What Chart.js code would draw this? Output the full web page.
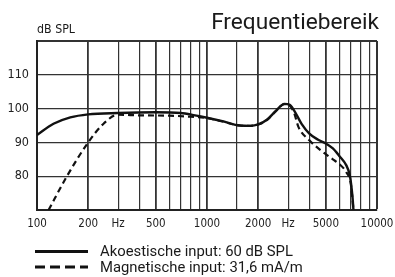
<!DOCTYPE html>
<html>
<head>
<meta charset="utf-8">
<script src="https://cdn.jsdelivr.net/npm/chart.js@4.4.1/dist/chart.umd.min.js"></script>
<style>
  html, body { margin: 0; padding: 0; background: #fff; }
  #wrap { width: 395px; height: 277px; }
</style>
</head>
<body>
<div id="wrap"><canvas id="freqChart" width="395" height="277"></canvas></div>
<script>
// Akoestische input (solid line)
const acousticFreq = [100, 125, 157, 200, 300, 500, 700, 850, 1000, 1250,
  1560, 1800, 2000, 2250, 2550, 2850, 3050, 3250, 3600, 4000,
  4500, 5000, 5500, 6000, 6600, 6900, 7050, 7170, 7270];
const acousticDb = [92.2, 95.5, 97.4, 98.3, 98.7, 98.9, 98.7, 98.0, 97.3, 96.2,
  95.0, 94.9, 95.3, 96.7, 99.4, 101.4, 101.2, 99.5, 95.5, 92.6,
  90.8, 89.7, 88.2, 86.0, 83.2, 80.5, 77.5, 74.0, 70];

// Magnetische input (dashed line)
const magneticFreq = [117, 150, 200, 247, 300, 400, 600, 800, 1000, 1250,
  1560, 1800, 2000, 2250, 2550, 2850, 3050, 3250, 3450, 4000,
  4500, 5000, 5500, 6000, 6600, 7000, 7150, 7270];
const magneticDb = [70, 80, 90, 95.6, 98.2, 98.0, 97.9, 97.6, 97.2, 96.1,
  95.0, 94.9, 95.3, 96.6, 99.3, 101.3, 101.0, 98.8, 94.6, 90.6,
  88.3, 86.5, 85.0, 83.6, 81.2, 78.0, 74.0, 70];

// tick labels
const xLabelValues = [100, 200, 300, 500, 1000, 2000, 3000, 5000, 10000];
const xLabelTexts = ['100', '200', 'Hz', '500', '1000', '2000', 'Hz', '5000', '10000'];
const yLabelValues = [80, 90, 100, 110];
const strongGrid = [200, 500, 1000, 2000, 5000];

const legendLabels = ['Akoestische input: 60 dB SPL', 'Magnetische input: 31,6 mA/m'];
const titleText = 'Frequentiebereik';
const unitText = 'dB SPL';

const tickFont = '"DejaVu Sans Condensed", "Liberation Sans", sans-serif';
const textFont = 'Roboto, "Noto Sans", sans-serif';

function toPoints(xs, ys) {
  return xs.map((x, i) => ({ x: x, y: ys[i] }));
}

// fit a font size so the text spans a given width
function fitFont(ctx, text, width, family) {
  ctx.font = '20px ' + family;
  const w = ctx.measureText(text).width;
  return 20 * width / w;
}

// title, unit and legend drawn on the canvas
const decorations = {
  id: 'decorations',
  afterDraw(chart) {
    const ctx = chart.ctx;
    ctx.save();
    ctx.fillStyle = '#1a1a1a';
    ctx.textBaseline = 'alphabetic';

    const ts = fitFont(ctx, titleText, 168, textFont);
    ctx.font = ts + 'px ' + textFont;
    ctx.textAlign = 'right';
    ctx.fillText(titleText, 379, 28.5);

    const us = fitFont(ctx, unitText, 38, tickFont);
    ctx.font = us + 'px ' + tickFont;
    ctx.textAlign = 'left';
    ctx.fillText(unitText, 37, 33);

    const ls = fitFont(ctx, legendLabels[0], 193, textFont);
    ctx.font = ls + 'px ' + textFont;
    ctx.fillText(legendLabels[0], 100, 256);
    ctx.fillText(legendLabels[1], 100, 272);

    ctx.strokeStyle = '#111';
    ctx.lineWidth = 3;
    ctx.beginPath();
    ctx.moveTo(35, 251.5);
    ctx.lineTo(88, 251.5);
    ctx.stroke();
    ctx.setLineDash([10, 5]);
    ctx.beginPath();
    ctx.moveTo(35, 267);
    ctx.lineTo(88, 267);
    ctx.stroke();
    ctx.restore();
  }
};

const chart = new Chart(document.getElementById('freqChart'), {
  type: 'line',
  data: {
    datasets: [{
      label: legendLabels[0],
      data: toPoints(acousticFreq, acousticDb),
      borderColor: '#111',
      borderWidth: 2.4,
      pointRadius: 0,
      cubicInterpolationMode: 'monotone',
      fill: false
    }, {
      label: legendLabels[1],
      data: toPoints(magneticFreq, magneticDb),
      borderColor: '#111',
      borderWidth: 2.2,
      borderDash: [6, 4],
      pointRadius: 0,
      cubicInterpolationMode: 'monotone',
      fill: false
    }]
  },
  options: {
    responsive: false,
    animation: false,
    devicePixelRatio: 1,
    layout: { padding: { top: 41, right: 18, bottom: 47, left: 0 } },
    plugins: {
      legend: { display: false },
      title: { display: false },
      tooltip: { enabled: false }
    },
    scales: {
      x: {
        type: 'logarithmic',
        min: 100,
        max: 10000,
        border: { color: '#222', width: 2 },
        grid: {
          drawTicks: false,
          color: '#333',
          lineWidth: (c) => {
            const v = c.tick ? c.tick.value : 0;
            if (v === 10000) return 2;
            return strongGrid.includes(v) ? 1.8 : 1.2;
          }
        },
        ticks: {
          autoSkip: false,
          maxRotation: 0,
          padding: 7,
          color: '#222',
          font: { family: tickFont, size: 11.5 },
          callback: (v) => {
            const i = xLabelValues.indexOf(Number(v));
            return i >= 0 ? xLabelTexts[i] : '';
          }
        },
        afterFit: (s) => { s.height = 20; s.paddingLeft = 0; s.paddingRight = 0; }
      },
      y: {
        min: 70,
        max: 120,
        border: { color: '#222', width: 2 },
        grid: {
          drawTicks: false,
          color: '#333',
          lineWidth: (c) => (c.tick && c.tick.value === 120 ? 2 : 1.3)
        },
        ticks: {
          stepSize: 10,
          padding: 8,
          color: '#222',
          font: { family: tickFont, size: 12.5 },
          callback: (v) => (yLabelValues.includes(v) ? String(v) : '')
        },
        afterFit: (s) => { s.width = 37; s.paddingTop = 0; s.paddingBottom = 0; }
      }
    }
  },
  plugins: [decorations]
});
</script>
</body>
</html>
